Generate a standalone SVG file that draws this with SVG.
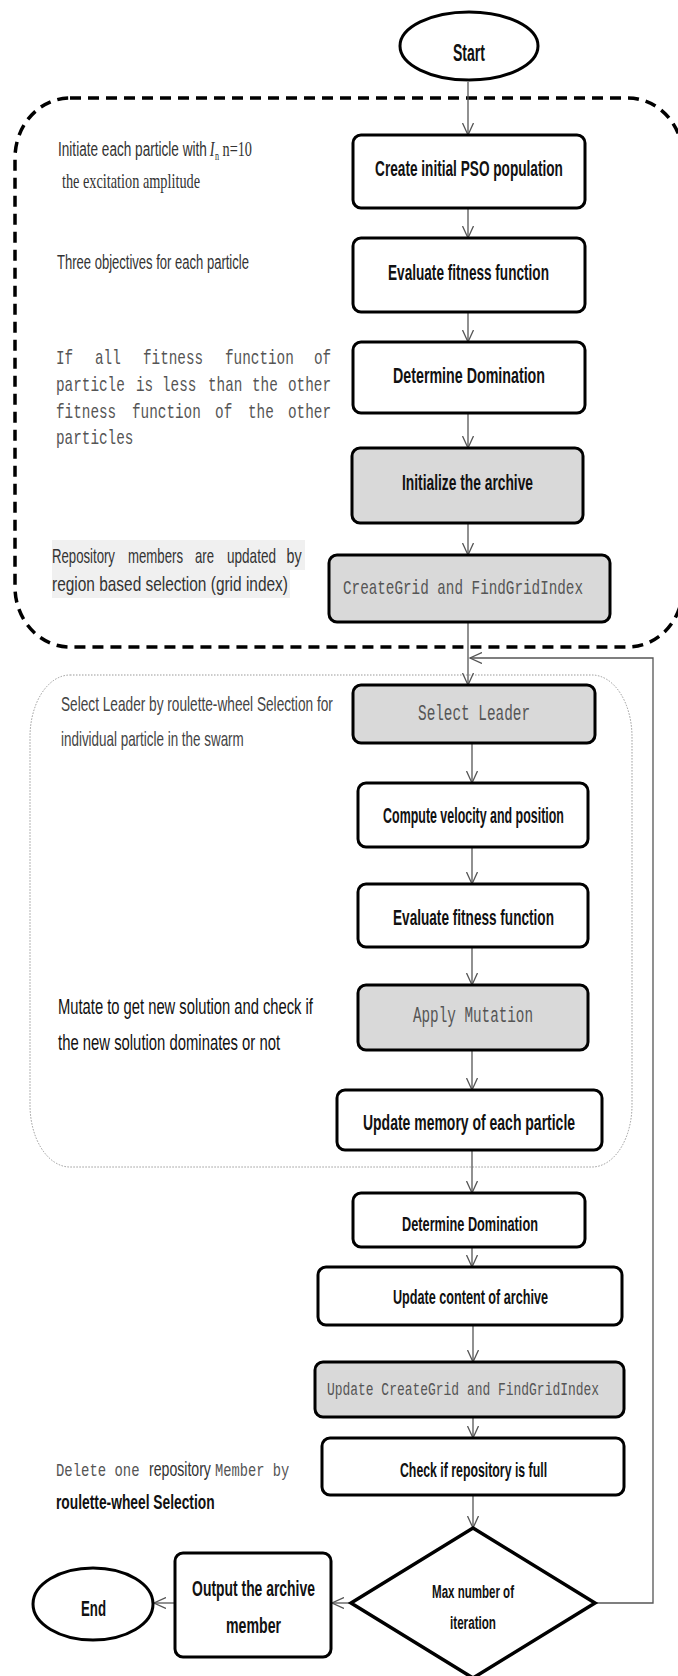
<svg xmlns="http://www.w3.org/2000/svg" width="678" height="1676" viewBox="0 0 678 1676">
<defs>
<marker id="arr" markerUnits="userSpaceOnUse" markerWidth="14" markerHeight="12" refX="12" refY="6" orient="auto">
<path d="M0,0.5 L12,6 L0,11.5" fill="none" stroke="#555" stroke-width="1.3"/>
</marker>
<style>
.box{fill:#fff;stroke:#000;stroke-width:3}
.gbox{fill:#d9d9d9;stroke:#000;stroke-width:3}
.lbl{font-family:"Liberation Sans",Arial,sans-serif;font-weight:700;font-size:22px;fill:#111;text-anchor:middle}
.mono{font-family:"Liberation Mono","Courier New",monospace;font-size:21px;fill:#555;text-anchor:middle}
.note{font-family:"Liberation Sans",Arial,sans-serif;font-size:20px;fill:#333}
.mnote{font-family:"Liberation Mono","Courier New",monospace;font-size:20px;fill:#555}
.conn{fill:none;stroke:#555;stroke-width:1.3}
</style>
</defs>
<rect width="678" height="1676" fill="#fff"/>

<g id="regions">
<rect x="15" y="98" width="668" height="549" rx="55" ry="60" fill="none" stroke="#000" stroke-width="3.5" stroke-dasharray="11 7"/>
<rect x="30" y="675" width="602" height="492" rx="40" ry="62" fill="none" stroke="#999" stroke-width="1" stroke-dasharray="1.5 1.5"/>
</g>

<g id="notes">
<text transform="translate(58 156) scale(0.68 1)" class="note"><tspan x="0">Initiate each particle with</tspan><tspan x="223" style="font-family:'Liberation Serif',serif;font-style:italic;font-size:21px">I</tspan><tspan x="231" dy="4" style="font-family:'Liberation Serif',serif;font-size:12px">n</tspan><tspan x="242" dy="-4" style="font-family:'Liberation Serif',serif;font-size:21px">n=10</tspan></text>
<text transform="translate(62 188) scale(0.68 1)" style="font-family:'Liberation Serif',serif;font-size:21px;fill:#333" textLength="203" lengthAdjust="spacingAndGlyphs">the excitation amplitude</text>
<text transform="translate(57 269) scale(0.621 1)" class="note" style="font-size:21px" textLength="309" lengthAdjust="spacingAndGlyphs">Three objectives for each particle</text>
<g transform="translate(56 0) scale(0.717 1)">
<text class="mnote" y="364"><tspan x="0">If</tspan><tspan x="54.4">all</tspan><tspan x="121.3">fitness</tspan><tspan x="235.7">function</tspan><tspan x="359.8">of</tspan></text>
<text class="mnote" y="391"><tspan x="0">particle</tspan><tspan x="111.6">is</tspan><tspan x="147.8">less</tspan><tspan x="212">than</tspan><tspan x="273.4">the</tspan><tspan x="323.6">other</tspan></text>
<text class="mnote" y="418"><tspan x="0">fitness</tspan><tspan x="106">function</tspan><tspan x="221.8">of</tspan><tspan x="267.8">the</tspan><tspan x="323.6">other</tspan></text>
<text class="mnote" x="0" y="444">particles</text>
</g>
<rect x="52" y="540" width="253" height="30" fill="#f0f0f0"/>
<rect x="52" y="570" width="238" height="28" fill="#f0f0f0"/>
<g transform="translate(52 0) scale(0.68 1)">
<text class="note" y="563" style="font-size:21px"><tspan x="0" textLength="92.6" lengthAdjust="spacingAndGlyphs">Repository</tspan><tspan x="111.8" textLength="80.9" lengthAdjust="spacingAndGlyphs">members</tspan><tspan x="210.3" textLength="27.9" lengthAdjust="spacingAndGlyphs">are</tspan><tspan x="257.4" textLength="72" lengthAdjust="spacingAndGlyphs">updated</tspan><tspan x="345">by</tspan></text>
<text class="note" x="0" y="591" style="font-size:21px" textLength="347" lengthAdjust="spacingAndGlyphs">region based selection (grid index)</text>
</g>
<text transform="translate(61 711) scale(0.683 1)" class="note" style="fill:#444" textLength="398" lengthAdjust="spacingAndGlyphs">Select Leader by roulette-wheel Selection for</text>
<text transform="translate(61 746) scale(0.672 1)" class="note" style="fill:#444" textLength="272" lengthAdjust="spacingAndGlyphs">individual particle in the swarm</text>
<text transform="translate(58 1014) scale(0.671 1)" class="note" style="font-size:22px;fill:#111" textLength="380" lengthAdjust="spacingAndGlyphs">Mutate to get new solution and check if</text>
<text transform="translate(58 1050) scale(0.675 1)" class="note" style="font-size:22px;fill:#111" textLength="329" lengthAdjust="spacingAndGlyphs">the new solution dominates or not</text>
<text transform="translate(56 1476) scale(0.72 1)" class="note"><tspan x="0" style="font-family:'Liberation Mono',monospace;font-size:19px;fill:#555" textLength="116" lengthAdjust="spacingAndGlyphs">Delete one</tspan><tspan x="129.2" textLength="86" lengthAdjust="spacingAndGlyphs">repository</tspan><tspan x="220.8" style="font-family:'Liberation Mono',monospace;font-size:19px;fill:#555" textLength="103" lengthAdjust="spacingAndGlyphs">Member by</tspan></text>
<text transform="translate(56 1509) scale(0.661 1)" class="note" style="font-size:21px;fill:#111;font-weight:700" textLength="240" lengthAdjust="spacingAndGlyphs">roulette-wheel Selection</text>
</g>

<g id="connectors">
<line class="conn" x1="468" y1="82" x2="468" y2="135" marker-end="url(#arr)"/>
<line class="conn" x1="468" y1="208" x2="468" y2="238" marker-end="url(#arr)"/>
<line class="conn" x1="468" y1="312" x2="468" y2="342" marker-end="url(#arr)"/>
<line class="conn" x1="468" y1="413" x2="468" y2="448" marker-end="url(#arr)"/>
<line class="conn" x1="468" y1="523" x2="468" y2="555" marker-end="url(#arr)"/>
<line class="conn" x1="468" y1="622" x2="468" y2="685" marker-end="url(#arr)"/>
<polyline class="conn" points="595,1603 653,1603 653,658 470,658" stroke="#888" marker-end="url(#arr)"/>
<line class="conn" x1="472" y1="743" x2="472" y2="783" marker-end="url(#arr)"/>
<line class="conn" x1="472" y1="847" x2="472" y2="884" marker-end="url(#arr)"/>
<line class="conn" x1="472" y1="947" x2="472" y2="985" marker-end="url(#arr)"/>
<line class="conn" x1="472" y1="1050" x2="472" y2="1090" marker-end="url(#arr)"/>
<line class="conn" x1="472" y1="1150" x2="472" y2="1193" marker-end="url(#arr)"/>
<line class="conn" x1="472" y1="1247" x2="472" y2="1267" marker-end="url(#arr)"/>
<line class="conn" x1="473" y1="1325" x2="473" y2="1362" marker-end="url(#arr)"/>
<line class="conn" x1="473" y1="1417" x2="473" y2="1438" marker-end="url(#arr)"/>
<line class="conn" x1="473" y1="1495" x2="473" y2="1528" marker-end="url(#arr)"/>
<line class="conn" x1="351" y1="1603" x2="332" y2="1603" marker-end="url(#arr)"/>
<line class="conn" x1="175" y1="1603" x2="154" y2="1603" marker-end="url(#arr)"/>
</g>

<g id="start">
<ellipse cx="469" cy="46" rx="69" ry="34" fill="#fff" stroke="#000" stroke-width="3"/>
<text class="lbl" transform="translate(469 61) scale(0.61 1)" style="font-size:23px" textLength="52.5" lengthAdjust="spacingAndGlyphs">Start</text>
</g>
<g id="create">
<rect class="box" x="353" y="135" width="232" height="73" rx="8"/>
<text class="lbl" transform="translate(469 176) scale(0.62 1)" textLength="303" lengthAdjust="spacingAndGlyphs">Create initial PSO population</text>
</g>
<g id="evaluate1">
<rect class="box" x="353" y="238" width="232" height="74" rx="8"/>
<text class="lbl" transform="translate(468.5 280) scale(0.619 1)" textLength="260" lengthAdjust="spacingAndGlyphs">Evaluate fitness function</text>
</g>
<g id="determine1">
<rect class="box" x="353" y="342" width="232" height="71" rx="8"/>
<text class="lbl" transform="translate(469 383) scale(0.648 1)" textLength="234.6" lengthAdjust="spacingAndGlyphs">Determine Domination</text>
</g>
<g id="initialize">
<rect class="gbox" x="352" y="448" width="231" height="75" rx="8"/>
<text class="lbl" transform="translate(467.5 490) scale(0.627 1)" textLength="209" lengthAdjust="spacingAndGlyphs">Initialize the archive</text>
</g>
<g id="creategrid">
<rect class="gbox" x="329" y="555" width="281" height="67" rx="8"/>
<text class="mono" transform="translate(463 594) scale(0.68 1)" textLength="353" lengthAdjust="spacingAndGlyphs">CreateGrid and FindGridIndex</text>
</g>
<g id="selectleader">
<rect class="gbox" x="353" y="685" width="242" height="58" rx="8"/>
<text class="mono" transform="translate(474 720) scale(0.653 1)" style="font-size:22px" textLength="171.5" lengthAdjust="spacingAndGlyphs">Select Leader</text>
</g>
<g id="compute">
<rect class="box" x="358" y="783" width="230" height="64" rx="8"/>
<text class="lbl" transform="translate(473.5 823) scale(0.565 1)" textLength="320" lengthAdjust="spacingAndGlyphs">Compute velocity and position</text>
</g>
<g id="evaluate2">
<rect class="box" x="358" y="884" width="230" height="63" rx="8"/>
<text class="lbl" transform="translate(473.5 925) scale(0.619 1)" textLength="260" lengthAdjust="spacingAndGlyphs">Evaluate fitness function</text>
</g>
<g id="mutation">
<rect class="gbox" x="358" y="985" width="230" height="65" rx="8"/>
<text class="mono" transform="translate(473 1022) scale(0.649 1)" style="font-size:22px" textLength="185" lengthAdjust="spacingAndGlyphs">Apply Mutation</text>
</g>
<g id="updatememory">
<rect class="box" x="337" y="1090" width="265" height="60" rx="8"/>
<text class="lbl" transform="translate(469 1130) scale(0.635 1)" textLength="334" lengthAdjust="spacingAndGlyphs">Update memory of each particle</text>
</g>
<g id="determine2">
<rect class="box" x="353" y="1193" width="232" height="54" rx="8"/>
<text class="lbl" transform="translate(470 1231) scale(0.638 1)" style="font-size:20px" textLength="213" lengthAdjust="spacingAndGlyphs">Determine Domination</text>
</g>
<g id="updatecontent">
<rect class="box" x="318" y="1267" width="304" height="58" rx="8"/>
<text class="lbl" transform="translate(470.5 1304) scale(0.601 1)" style="font-size:21px" textLength="258" lengthAdjust="spacingAndGlyphs">Update content of archive</text>
</g>
<g id="updategrid">
<rect class="gbox" x="315" y="1362" width="309" height="55" rx="8"/>
<text class="mono" transform="translate(463 1395) scale(0.682 1)" style="font-size:19px" textLength="399" lengthAdjust="spacingAndGlyphs">Update CreateGrid and FindGridIndex</text>
</g>
<g id="checkfull">
<rect class="box" x="322" y="1438" width="302" height="57" rx="8"/>
<text class="lbl" transform="translate(473.5 1477) scale(0.586 1)" style="font-size:21px" textLength="251" lengthAdjust="spacingAndGlyphs">Check if repository is full</text>
</g>
<g id="maxiter">
<polygon points="473,1528 595,1603 473,1678 351,1603" fill="#fff" stroke="#000" stroke-width="3.5"/>
<text class="lbl" transform="translate(473 1598) scale(0.607 1)" style="font-size:19px" textLength="135" lengthAdjust="spacingAndGlyphs">Max number of</text>
<text class="lbl" transform="translate(473 1629) scale(0.613 1)" style="font-size:19px" textLength="75" lengthAdjust="spacingAndGlyphs">iteration</text>
</g>
<g id="output">
<rect class="box" x="175" y="1553" width="156" height="104" rx="8"/>
<text class="lbl" transform="translate(253.5 1596) scale(0.633 1)" textLength="194" lengthAdjust="spacingAndGlyphs">Output the archive</text>
<text class="lbl" transform="translate(253.5 1633) scale(0.643 1)" textLength="85.6" lengthAdjust="spacingAndGlyphs">member</text>
</g>
<g id="end">
<ellipse cx="93" cy="1604" rx="60" ry="36" fill="#fff" stroke="#000" stroke-width="3"/>
<text class="lbl" transform="translate(93.5 1616) scale(0.6 1)" textLength="41.7" lengthAdjust="spacingAndGlyphs">End</text>
</g>
</svg>
